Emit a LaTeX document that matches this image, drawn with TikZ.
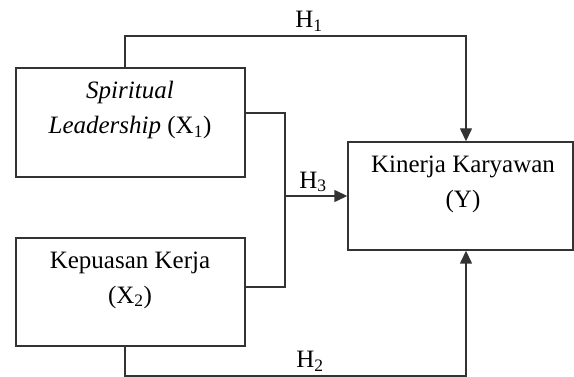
\documentclass[tikz,border=0pt]{standalone}
\usepackage{fontspec}
\setmainfont{Liberation Serif}
\usetikzlibrary{arrows.meta}
\begin{document}
\begin{tikzpicture}[x=1pt,y=-1pt,
  box/.style={draw=black!80, line width=1.4pt, inner sep=0pt},
  txt/.style={align=center, inner sep=0pt, font=\fontsize{25}{35}\selectfont},
  hlabel/.style={inner sep=0pt, font=\fontsize{25}{30}\selectfont},
  link/.style={draw=black!80, line width=1.4pt},
  arr/.style={link, -{Triangle[length=13pt,width=12pt]}}]
\useasboundingbox (0,0) rectangle (574,377);

% the three variable boxes
\node[box, minimum width=229pt, minimum height=109pt] (x1) at (130.5,122.5) {};
\node[box, minimum width=229pt, minimum height=108pt] (x2) at (130.5,292) {};
\node[box, minimum width=225pt, minimum height=108pt] (y) at (460.5,196) {};

% box captions
\node[txt] (tx1) at (130,110) {\textit{Spiritual}\\\textit{Leadership} (X\textsubscript{1})};
\node[txt] (tx2) at (130,280) {Kepuasan Kerja\\(X\textsubscript{2})};
\node[txt] (ty) at (463,184) {Kinerja Karyawan\\(Y)};

% routing points
\coordinate (h1a) at (125,36);
\coordinate (h1b) at (466,36);
\coordinate (h2a) at (125,376);
\coordinate (h2b) at (466,376);
\coordinate (j1) at (285,113);
\coordinate (j2) at (285,287);
\coordinate (j3) at (285,196);

% H1: X1 -> Y over the top
\draw[arr] (x1.north -| h1a) -- (h1a) -- (h1b) -- (y.north -| h1b);
% H2: X2 -> Y along the bottom
\draw[arr] (x2.south -| h2a) -- (h2a) -- (h2b) -- (y.south -| h2b);
% H3: joint path from X1 and X2 into Y
\draw[link] (x1.east |- j1) -- (j1) -- (j2) -- (x2.east |- j2);
\draw[arr] (j3) -- (y.west |- j3);

% hypothesis labels
\node[hlabel] (h1) at (309,21) {H\textsubscript{1}};
\node[hlabel] (h2) at (310,361) {H\textsubscript{2}};
\node[hlabel] (h3) at (313,182) {H\textsubscript{3}};
\end{tikzpicture}
\end{document}
